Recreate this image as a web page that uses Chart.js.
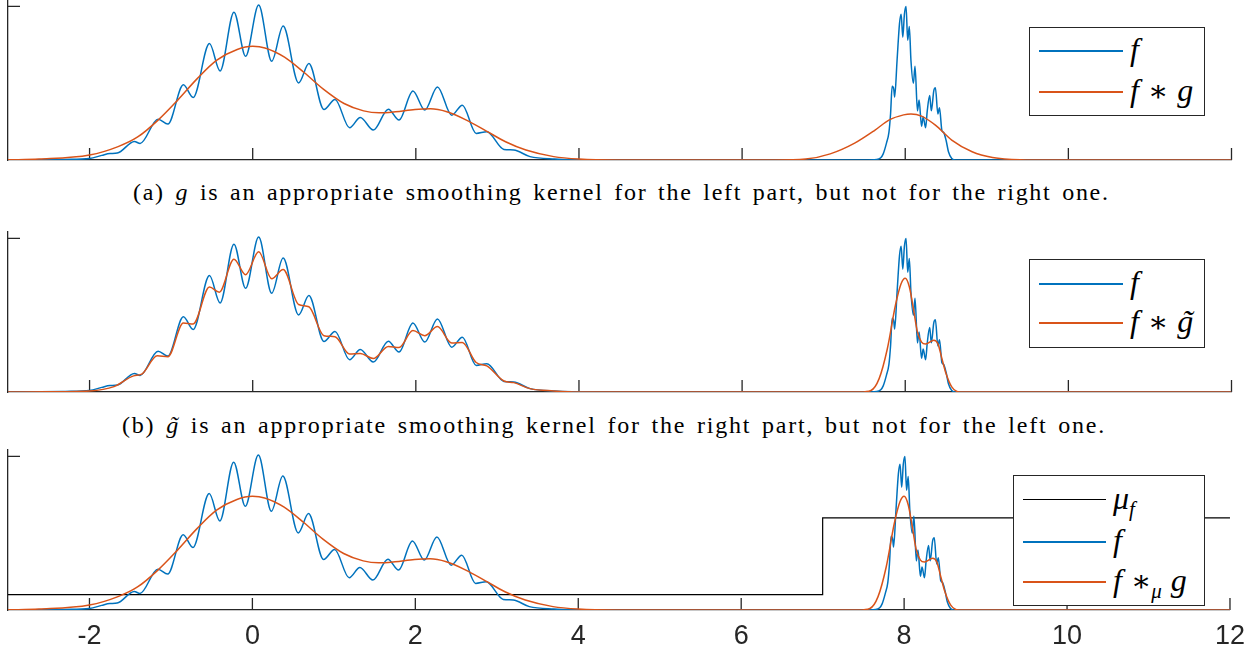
<!DOCTYPE html>
<html><head><meta charset="utf-8">
<script src="https://cdn.jsdelivr.net/npm/chart.js@4.4.1/dist/chart.umd.min.js"></script>
<style>
html,body{margin:0;padding:0;background:#fff;width:1255px;height:655px;overflow:hidden;}
body{position:relative;}
canvas{position:absolute;left:0;}
.cap{position:absolute;font-family:'Liberation Serif','Times New Roman',serif;font-size:24px;line-height:30px;color:#000;white-space:nowrap;}
.leg{position:absolute;border:1px solid #262626;background:#fff;box-sizing:border-box;z-index:5;}
.ls{position:absolute;height:1.5px;}
.lt{position:absolute;font-family:'Liberation Serif','Times New Roman',serif;font-style:italic;font-size:32px;line-height:40px;white-space:nowrap;color:#000;}
.op{font-style:normal;font-family:'DejaVu Serif',serif;font-size:30px;margin:0 9px;}
.sub{font-size:21px;position:relative;top:7px;}
.gt{position:relative;display:inline-block;}
.gt .tl{position:absolute;left:0.14em;top:0;}
</style></head><body>
<canvas id="c1" width="1255" height="170" style="top:0px"></canvas>
<canvas id="c2" width="1255" height="180" style="top:222px"></canvas>
<canvas id="c3" width="1255" height="215" style="top:440px"></canvas>

<div class="cap" id="capA" style="top:177px"><span class="ct">(a) <i>g</i> is an appropriate smoothing kernel for the left part, but not for the right one.</span></div>
<div class="cap" id="capB" style="top:410px"><span class="ct">(b) <i class="gt">g<span class="tl">˜</span></i> is an appropriate smoothing kernel for the right part, but not for the left one.</span></div>

<div class="leg" style="left:1029px;top:27px;width:176px;height:89px;">
  <div class="ls" style="left:9px;top:22px;width:84px;background:#0072BD"></div>
  <div class="lt" style="left:100px;top:1px">f</div>
  <div class="ls" style="left:9px;top:63px;width:84px;background:#D95319"></div>
  <div class="lt" style="left:100px;top:42px">f<span class="op">∗</span>g</div>
</div>
<div class="leg" style="left:1029px;top:259px;width:176px;height:89px;">
  <div class="ls" style="left:9px;top:23px;width:84px;background:#0072BD"></div>
  <div class="lt" style="left:100px;top:2px">f</div>
  <div class="ls" style="left:9px;top:62px;width:84px;background:#D95319"></div>
  <div class="lt" style="left:100px;top:41px">f<span class="op">∗</span><span class="gt">g<span class="tl">˜</span></span></div>
</div>
<div class="leg" style="left:1013px;top:475px;width:192px;height:131px;">
  <div class="ls" style="left:9px;top:23px;width:83px;height:1.2px;background:#000"></div>
  <div class="lt" style="left:99px;top:2px">μ<span class="sub">f</span></div>
  <div class="ls" style="left:9px;top:65px;width:83px;background:#0072BD"></div>
  <div class="lt" style="left:99px;top:44px">f</div>
  <div class="ls" style="left:9px;top:105px;width:83px;background:#D95319"></div>
  <div class="lt" style="left:99px;top:84px">f<span class="op" style="margin-right:0">∗</span><span class="sub" style="margin-right:9px">μ</span>g</div>
</div>

<script>
// ---- data ----
const xTicks = [-2, 0, 2, 4, 6, 8, 10, 12];
const xTickLabels = ['-2', '0', '2', '4', '6', '8', '10', '12'];
const yTicks = [1];

// f (blue)
const fX = [-3.0, -2.6, -2.3, -2.0, -1.85, -1.75, -1.66, -1.45, -1.38, -1.16, -1.04, -0.85, -0.73, -0.53, -0.40, -0.23, -0.087, 0.073, 0.233, 0.373, 0.563, 0.689, 0.873, 1.009, 1.188, 1.319, 1.479, 1.663, 1.794, 1.964, 2.11, 2.265, 2.44, 2.57, 2.74, 2.87, 3.08, 3.2, 3.4, 3.7, 4.2,
  7.5, 7.65, 7.70, 7.73, 7.77, 7.80, 7.82, 7.84, 7.86, 7.87, 7.90, 7.93, 7.95, 7.97, 7.99, 8.01, 8.03, 8.05, 8.07, 8.10, 8.12, 8.15, 8.17, 8.20, 8.22, 8.25, 8.27, 8.30, 8.32, 8.35, 8.37, 8.40, 8.42, 8.45, 8.47, 8.50, 8.53, 8.57, 8.62, 12.0];
const fY = [0, 0.001, 0.004, 0.01, 0.03, 0.042, 0.045, 0.12, 0.108, 0.266, 0.234, 0.49, 0.407, 0.758, 0.58, 0.963, 0.675, 1.009, 0.643, 0.872, 0.502, 0.628, 0.329, 0.394, 0.21, 0.277, 0.195, 0.331, 0.26, 0.45, 0.325, 0.476, 0.292, 0.357, 0.173, 0.184, 0.069, 0.065, 0.022, 0.006, 0,
  0, 0.003, 0.015, 0.04, 0.11, 0.18, 0.30, 0.48, 0.46, 0.41, 0.65, 0.89, 0.95, 0.80, 0.95, 1.0, 0.78, 0.87, 0.65, 0.50, 0.61, 0.32, 0.39, 0.22, 0.28, 0.21, 0.32, 0.42, 0.32, 0.45, 0.47, 0.30, 0.34, 0.19, 0.18, 0.13, 0.054, 0.01, 0, 0];

// f * g, wide kernel (left and right parts)
const wideLeftX = [-3.0, -2.62, -2.0, -1.65, -1.41, -1.16, -0.92, -0.68, -0.44, -0.19, 0.0, 0.15, 0.39, 0.63, 0.87, 1.12, 1.36, 1.55, 1.75, 1.99, 2.18, 2.38, 2.62, 2.86, 3.10, 3.35, 3.69, 4.0, 4.46];
const wideLeftY = [0.001, 0.006, 0.032, 0.087, 0.15, 0.26, 0.39, 0.53, 0.65, 0.72, 0.74, 0.73, 0.67, 0.57, 0.46, 0.368, 0.32, 0.307, 0.314, 0.329, 0.333, 0.314, 0.26, 0.19, 0.119, 0.065, 0.022, 0.006, 0];
const wideRightX = [6.4, 6.78, 7.08, 7.38, 7.63, 7.80, 7.98, 8.07, 8.20, 8.37, 8.57, 8.82, 9.07, 9.41, 9.8, 12.0];
const wideRightY = [0, 0.006, 0.04, 0.11, 0.195, 0.26, 0.294, 0.30, 0.286, 0.227, 0.13, 0.054, 0.017, 0.002, 0, 0];

// f * g~, narrow kernel (left and right parts)
const narrowLeftX = [-3.0, -2.5, -2.0, -1.70, -1.46, -1.36, -1.17, -1.04, -0.85, -0.73, -0.53, -0.41, -0.23, -0.087, 0.073, 0.233, 0.373, 0.563, 0.689, 0.873, 1.009, 1.188, 1.319, 1.479, 1.663, 1.794, 1.964, 2.11, 2.265, 2.44, 2.57, 2.74, 2.87, 3.08, 3.2, 3.4, 3.69, 4.0];
const narrowLeftY = [0, 0.002, 0.007, 0.035, 0.105, 0.116, 0.236, 0.23, 0.45, 0.443, 0.683, 0.65, 0.865, 0.764, 0.913, 0.738, 0.797, 0.57, 0.555, 0.367, 0.36, 0.247, 0.251, 0.218, 0.297, 0.29, 0.40, 0.367, 0.426, 0.319, 0.323, 0.192, 0.17, 0.072, 0.061, 0.022, 0.007, 0];
const narrowRightX = [7.45, 7.58, 7.68, 7.78, 7.88, 7.95, 8.0, 8.05, 8.10, 8.15, 8.20, 8.25, 8.35, 8.40, 8.45, 8.50, 8.57, 8.67, 12.0];
const narrowRightY = [0, 0.01, 0.087, 0.28, 0.565, 0.706, 0.74, 0.685, 0.543, 0.39, 0.325, 0.312, 0.337, 0.315, 0.217, 0.12, 0.033, 0, 0];

// mu_f (black step)
const muX = [-3, 7, 7, 12];
const muY = [0.1, 0.1, 0.6, 0.6];

// ---- chart construction ----
const BLUE = '#0072BD', ORANGE = '#D95319', AXIS = '#262626';
const pts = (xs, ys) => xs.map((x, i) => ({x: x, y: ys[i]}));

const inwardTicks = {
  id: 'inwardTicks',
  beforeDatasetsDraw(chart) {
    const {ctx, chartArea: a, scales: {x, y}} = chart;
    ctx.save();
    ctx.strokeStyle = AXIS; ctx.lineWidth = 1.3;
    ctx.beginPath();
    xTicks.forEach(v => { const px = x.getPixelForValue(v); ctx.moveTo(px, a.bottom); ctx.lineTo(px, a.bottom - 12); });
    yTicks.forEach(v => { const py = y.getPixelForValue(v); ctx.moveTo(a.left, py); ctx.lineTo(a.left + 12, py); });
    ctx.stroke();
    ctx.restore();
  }
};

function lineDs(data, color, width, order, mono) {
  return {data: data, borderColor: color, borderWidth: width, pointRadius: 0, fill: false,
          cubicInterpolationMode: mono ? 'monotone' : 'default', tension: 0, order: order};
}

function makeChart(id, datasets, showLabels, padTop, padBottom, xHeight) {
  return new Chart(document.getElementById(id), {
    type: 'line',
    data: {datasets: datasets},
    options: {
      responsive: false, animation: false, devicePixelRatio: 1,
      layout: {padding: {left: 8, right: 23.5, top: padTop, bottom: padBottom}},
      plugins: {legend: {display: false}, tooltip: {enabled: false}},
      scales: {
        x: {
          type: 'linear', min: -3, max: 12,
          afterBuildTicks: s => { s.ticks = xTicks.map(v => ({value: v})); },
          afterFit: s => { s.height = xHeight; },
          grid: {display: false, drawTicks: false},
          border: {display: true, color: AXIS, width: 1.3},
          ticks: {display: showLabels, autoSkip: false, maxRotation: 0, padding: 10,
                  color: AXIS, font: {family: 'Liberation Sans', size: 27},
                  callback: (v, i) => xTickLabels[i]}
        },
        y: {
          type: 'linear', min: 0, max: 1.042,
          afterBuildTicks: s => { s.ticks = yTicks.map(v => ({value: v})); },
          afterFit: s => { s.width = 0; },
          grid: {display: false, drawTicks: false},
          border: {display: true, color: AXIS, width: 1.3},
          ticks: {display: false}
        }
      }
    },
    plugins: [inwardTicks]
  });
}

const fData = pts(fX, fY);
makeChart('c1', [
  lineDs(fData, BLUE, 1.5, 1, true),
  lineDs(pts(wideLeftX.concat(wideRightX), wideLeftY.concat(wideRightY)), ORANGE, 1.5, 0, true)
], false, 0, 10, 0);
makeChart('c2', [
  lineDs(fData, BLUE, 1.5, 1, true),
  lineDs(pts(narrowLeftX.concat(narrowRightX), narrowLeftY.concat(narrowRightY)), ORANGE, 1.5, 0, true)
], false, 10, 10, 0);
makeChart('c3', [
  lineDs(pts(muX, muY), '#000', 1.2, 2, false),
  lineDs(fData, BLUE, 1.5, 1, true),
  lineDs(pts(wideLeftX.concat(narrowRightX), wideLeftY.concat(narrowRightY)), ORANGE, 1.5, 0, true)
], true, 10, 5, 40);

// caption fitting to the reference text extents (wider word gaps, small letter spacing)
function fitCaption(id, left, right) {
  const div = document.getElementById(id);
  const span = div.querySelector('.ct');
  const txt = span.textContent;
  const nSpaces = (txt.match(/ /g) || []).length;
  let ws = 3;
  span.style.wordSpacing = ws + 'px';
  const w = span.getBoundingClientRect().width;
  let ls = (right - left - w) / (txt.length - 1);
  if (ls < 0) { ls = 0; }
  span.style.letterSpacing = ls.toFixed(3) + 'px';
  div.style.left = left + 'px';
}
fitCaption('capA', 133, 1108);
fitCaption('capB', 122, 1106);
</script>
</body></html>
